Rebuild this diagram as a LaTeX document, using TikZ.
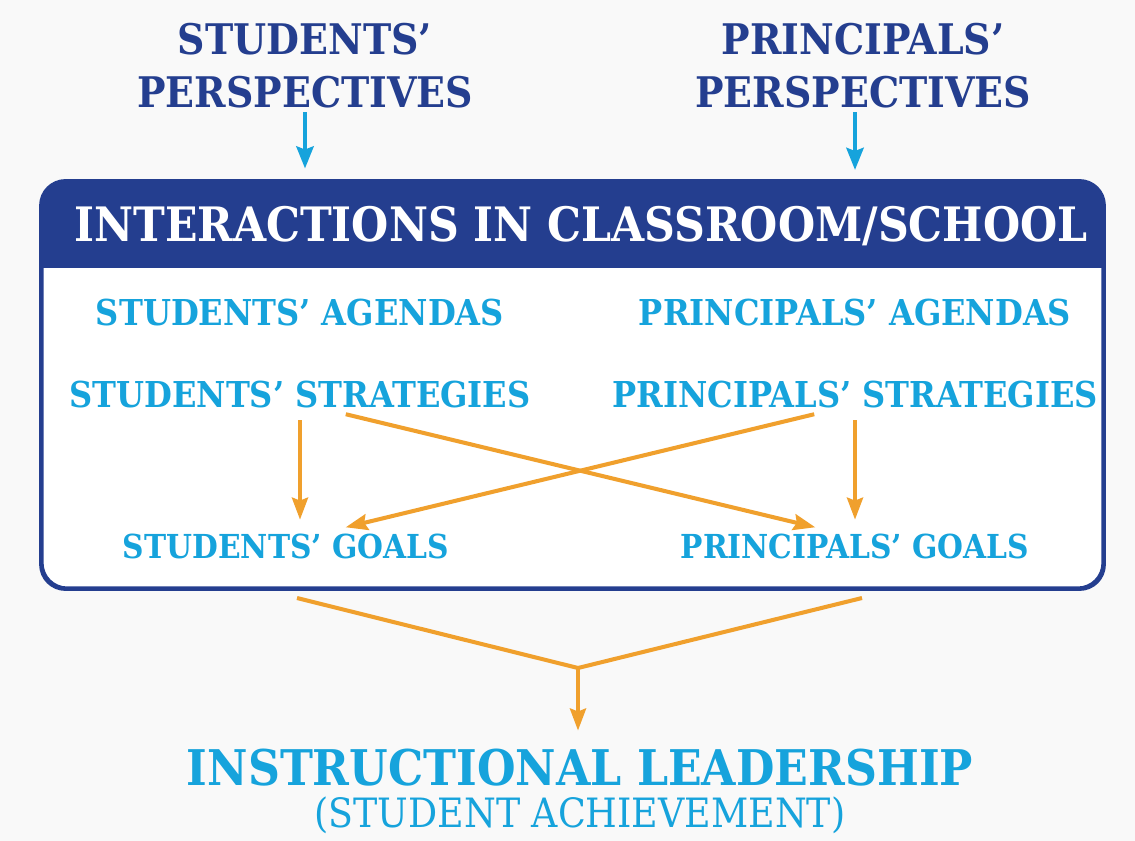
\documentclass[tikz,border=0pt]{standalone}
\usepackage{fontspec}
\setmainfont{DejaVu Serif}
\newfontfamily\slabcond{DejaVu Serif Condensed}
\usetikzlibrary{arrows.meta,positioning}
\definecolor{navyblue}{RGB}{36,62,143}
\definecolor{skyblue}{RGB}{22,163,220}
\definecolor{goldorange}{RGB}{240,160,45}
\definecolor{paper}{RGB}{249,249,249}

\begin{document}
\begin{tikzpicture}[x=0.02cm, y=-0.02cm,
    persp/.style={text=navyblue, align=center, inner sep=2pt,
        font=\slabcond\bfseries\fontsize{24}{30}\selectfont},
    item/.style={text=skyblue, inner sep=2pt,
        font=\slabcond\bfseries\fontsize{20.3}{24}\selectfont},
    goal/.style={item, font=\slabcond\bfseries\fontsize{18.8}{24}\selectfont},
    feed/.style={-{Stealth[length=0.44cm, width=0.34cm, inset=0.06cm]}, skyblue, line width=2.6pt},
    flow/.style={-{Stealth[length=0.44cm, width=0.32cm, inset=0.06cm]}, goldorange, line width=2.3pt}]

    % Background
    \fill[paper] (0,0) rectangle (1135,841);
    \useasboundingbox (0,0) rectangle (1135,841);

    % Perspectives
    \node[persp] (sp) at (305,66) {STUDENTS’\\PERSPECTIVES};
    \node[persp] (pp) at (863,66) {PRINCIPALS’\\PERSPECTIVES};

    % Interaction frame
    \node[draw=navyblue, line width=1.7pt, fill=white, rounded corners=0.5cm,
        minimum width=21.22cm, minimum height=8.12cm] (frame) at (572.5,385) {};
    \begin{scope}
        \clip[rounded corners=0.5cm] (frame.north west) rectangle (frame.south east);
        \fill[navyblue] (frame.north west) rectangle (1103,268);
    \end{scope}
    \draw[navyblue, line width=1.7pt, rounded corners=0.5cm]
        (frame.north west) rectangle (frame.south east);
    \node[text=white, font=\slabcond\bfseries\fontsize{27}{30}\selectfont] (head)
        at (581,226) {INTERACTIONS IN CLASSROOM/SCHOOL};

    \draw[feed, shorten >=0.24cm] (sp.south) -- (sp.south |- frame.north);
    \draw[feed, shorten >=0.24cm] (pp.south -| 855,0) -- (855,182);

    % Agendas, strategies, goals
    \node[item] (sa) at (300,313) {STUDENTS’ AGENDAS};
    \node[item] (pa) at (855,313) {PRINCIPALS’ AGENDAS};
    \node[item] (ss) at (300,395) {STUDENTS’ STRATEGIES};
    \node[item] (ps) at (855,395) {PRINCIPALS’ STRATEGIES};
    \node[goal] (sg) at (286,546) {STUDENTS’ GOALS};
    \node[goal] (pg) at (855,546) {PRINCIPALS’ GOALS};

    \begin{scope}[shorten <=0.16cm, shorten >=0.2cm]
        \draw[flow] (ss.south) -- (ss.south |- sg.north);
        \draw[flow] (ps.south) -- (ps.south |- pg.north);
        \draw[flow] ([xshift=0.76cm]ss.south) -- ([xshift=-0.6cm]pg.north);
        \draw[flow] ([xshift=-0.66cm]ps.south) -- ([xshift=1.0cm]sg.north);
    \end{scope}

    % Instructional leadership
    \node[text=skyblue, inner sep=2pt, font=\slabcond\bfseries\fontsize{28}{32}\selectfont]
        (lead) at (580,768) {INSTRUCTIONAL LEADERSHIP};
    \node[text=skyblue, inner sep=2pt, font=\slabcond\fontsize{23}{26}\selectfont]
        (ach) at (580,815) {(STUDENT ACHIEVEMENT)};

    \coordinate (lstart) at (297,598);
    \coordinate (rstart) at (862,598);
    \coordinate (merge) at (578,668);
    \draw[goldorange, line width=2.3pt, line join=round] (lstart) -- (merge) -- (rstart);
    \draw[flow, shorten >=0.3cm] (merge) -- (merge |- lead.north);

\end{tikzpicture}
\end{document}
